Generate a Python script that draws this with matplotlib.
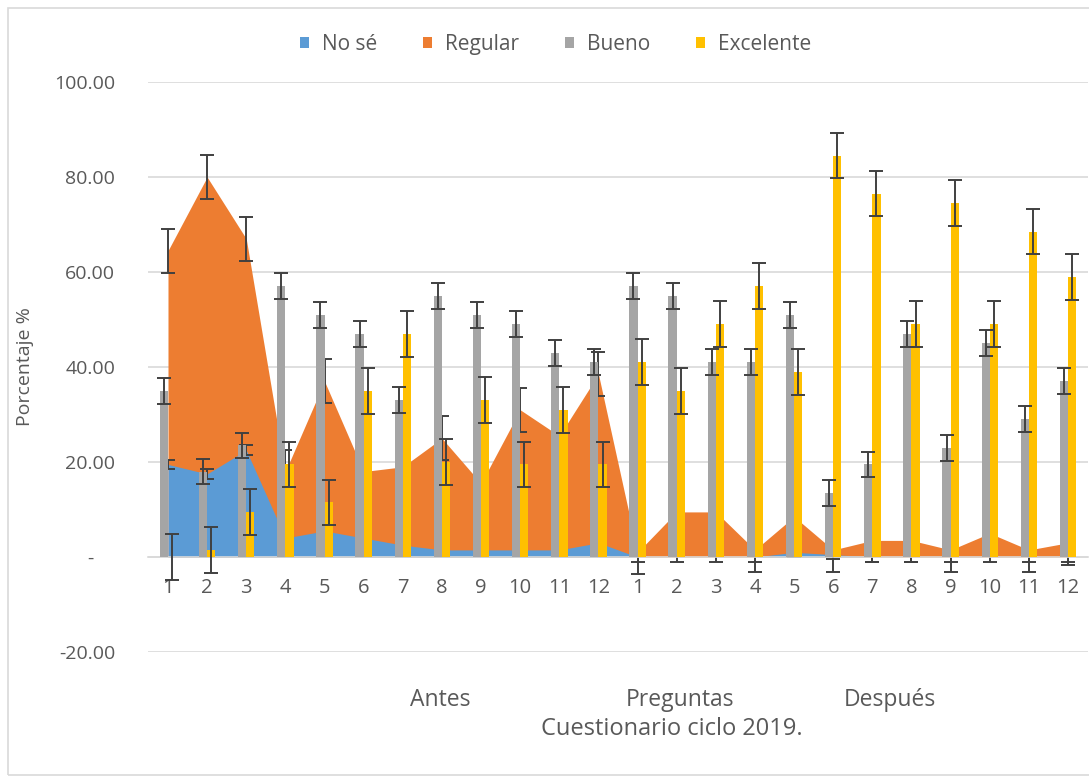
import numpy as np
import matplotlib.pyplot as plt
from matplotlib.patches import Rectangle

plt.rcParams['font.family'] = ['Open Sans', 'DejaVu Sans']

# categories: questions 1-12 before ("Antes") and 1-12 after ("Después")
preguntas = [str(i) for i in range(1, 13)] * 2

no_se = [19.5, 17.5, 22.5, 4, 5.5, 4, 2.5, 1.5, 1.5, 1.5, 1.5, 3,
         0, 0, 0, 0, 1, 0.5, 0, 0, 0, 0, 0, 0]
regular = [64.5, 80, 67, 18, 37, 18, 19, 25, 15.5, 31, 25.5, 38.5,
           1, 9.5, 9.5, 1.5, 8.5, 1.5, 3.5, 3.5, 1.5, 5, 1.5, 3]
bueno = [35, 18, 23.5, 57, 51, 47, 33, 55, 51, 49, 43, 41,
         57, 55, 41, 41, 51, 13.5, 19.5, 47, 23, 45, 29, 37]
excelente = [0, 1.5, 9.5, 19.5, 11.5, 35, 47, 20, 33, 19.5, 31, 19.5,
             41, 35, 49, 57, 39, 84.5, 76.5, 49, 74.5, 49, 68.5, 59]

err_no_se = 1.0
err_regular = 4.6
err_bueno = 2.7
err_excelente = 4.8

c_azul = '#5b9bd5'
c_naranja = '#ed7d31'
c_gris = '#a5a5a5'
c_amarillo = '#ffc000'
c_texto = '#595959'
c_err = '#404040'

x = np.arange(len(preguntas))
w = 0.21

fig = plt.figure(figsize=(10.89, 7.82), dpi=100)
ax = fig.add_axes([0.1363, 0.1662, 0.8624, 0.7289])

# areas (behind the bars)
ax.fill_between(x, 0, regular, color=c_naranja, lw=0, zorder=1, label='Regular')
ax.fill_between(x, 0, no_se, color=c_azul, lw=0, zorder=1.5, label='No sé')
ax.errorbar(x, regular, yerr=err_regular, fmt='none', ecolor=c_err, elinewidth=1.4,
            capsize=4.8, capthick=1.4, zorder=2)
ax.errorbar(x, no_se, yerr=err_no_se, fmt='none', ecolor=c_err, elinewidth=1.4,
            capsize=4.8, capthick=1.4, zorder=2)

# bars
ax.bar(x - w / 2, bueno, width=w, color=c_gris, zorder=3, label='Bueno')
ax.bar(x + w / 2, excelente, width=w, color=c_amarillo, zorder=3, label='Excelente')
ax.errorbar(x - w / 2, bueno, yerr=err_bueno, fmt='none', ecolor=c_err, elinewidth=1.4,
            capsize=4.8, capthick=1.4, zorder=4)
ax.errorbar(x + w / 2, excelente, yerr=err_excelente, fmt='none', ecolor=c_err,
            elinewidth=1.4, capsize=4.8, capthick=1.4, zorder=4)

ax.set_xlim(-0.5, len(preguntas) - 0.5)
ax.set_ylim(-20, 100)
ax.set_yticks(np.arange(-20, 101, 20))
ax.set_yticklabels(['%.2f' % v if v != 0 else '-    ' for v in np.arange(-20, 101, 20)])
ax.grid(axis='y', color='#d9d9d9', lw=1.2, zorder=0)
ax.set_axisbelow(True)

for s in ['top', 'right', 'left']:
    ax.spines[s].set_visible(False)
ax.spines['bottom'].set_position(('data', 0))
ax.spines['bottom'].set_color('#d9d9d9')
ax.spines['bottom'].set_linewidth(1.2)

ax.set_xticks(x)
ax.set_xticklabels(preguntas)
ax.tick_params(axis='x', length=0, pad=15, labelsize=14.5, labelcolor=c_texto)
ax.tick_params(axis='y', length=0, pad=24, labelsize=14, labelcolor=c_texto)

ax.set_ylabel('Porcentaje %', fontsize=14, color=c_texto)
ax.yaxis.set_label_coords(-0.122, 0.5)

# axis title with group names
fig.text(440 / 1089, 1 - 700 / 782, 'Antes', ha='center', va='center',
         fontsize=16.5, color=c_texto)
fig.text(680 / 1089, 1 - 700 / 782, 'Preguntas', ha='center', va='center',
         fontsize=16.5, color=c_texto)
fig.text(890 / 1089, 1 - 700 / 782, 'Después', ha='center', va='center',
         fontsize=16.5, color=c_texto)
fig.text(672 / 1089, 1 - 729 / 782, 'Cuestionario ciclo 2019.', ha='center',
         va='center', fontsize=17, color=c_texto)

handles, labels = ax.get_legend_handles_labels()
order = ['No sé', 'Regular', 'Bueno', 'Excelente']
hmap = dict(zip(labels, handles))
fig.legend([hmap[k] for k in order], order, loc='center', bbox_to_anchor=(0.51, 0.9437),
           ncol=4, frameon=False, fontsize=15, handlelength=0.45, handleheight=0.45,
           columnspacing=2.2, handletextpad=0.6, labelcolor=c_texto)

# chart border
fig.patches.append(Rectangle((8 / 1089, 7 / 782), 1.2, 1 - 15 / 782,
                             transform=fig.transFigure, fill=False,
                             edgecolor='#d9d9d9', lw=1.2))

fig.savefig('out.png', dpi=100)
